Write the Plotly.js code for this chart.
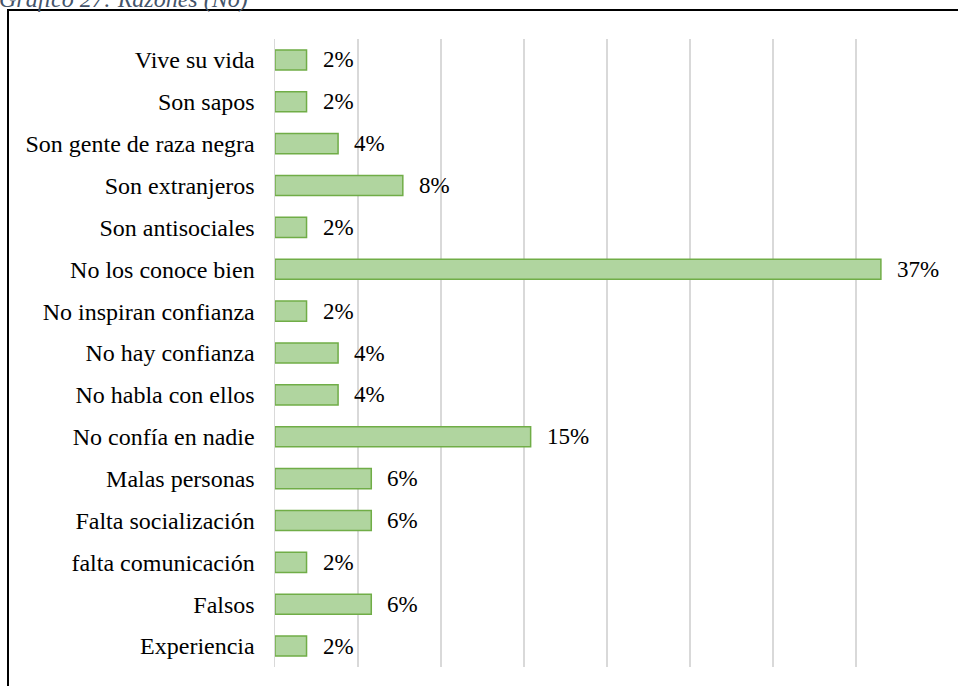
<!DOCTYPE html>
<html>
<head>
<meta charset="utf-8">
<script src="https://cdn.plot.ly/plotly-3.0.1.min.js"></script>
<style>
html,body{margin:0;padding:0;background:#fff;}
#chart{width:958px;height:686px;}
</style>
</head>
<body>
<div id="chart"></div>
<script>
const categories = ["Vive su vida","Son sapos","Son gente de raza negra","Son extranjeros","Son antisociales","No los conoce bien","No inspiran confianza","No hay confianza","No habla con ellos","No confía en nadie","Malas personas","Falta socialización","falta comunicación","Falsos","Experiencia"];
const values = [1.9, 1.9, 3.8, 7.7, 1.9, 36.5, 1.9, 3.8, 3.8, 15.4, 5.8, 5.8, 1.9, 5.8, 1.9];
const valueLabels = ["2%","2%","4%","8%","2%","37%","2%","4%","4%","15%","6%","6%","2%","6%","2%"];
const chartTitle = "Gráfico 27: Razones (No)";

const W = 958, H = 686;
const L = 275, R = 19, T = 39, B = 19;
const pw = W - L - R, ph = H - T - B;
const px2x = p => (p - L) / pw;
const py2y = p => (H - B - p) / ph;

const fontFam = '"Liberation Serif","Times New Roman",serif';

const trace = {
  type: 'bar',
  orientation: 'h',
  y: categories,
  x: values,
  width: 0.48,
  marker: {color: '#b0d59f', line: {color: '#70ad47', width: 1.5}},
  hoverinfo: 'none'
};

const annotations = categories.map((c, i) => ({
  x: values[i], y: c, xref: 'x', yref: 'y',
  text: valueLabels[i], showarrow: false,
  xanchor: 'left', yanchor: 'middle', xshift: 14,
  font: {family: fontFam, size: 23, color: '#000'}
}));
annotations.push({
  xref: 'paper', yref: 'paper', x: px2x(-3), y: py2y(-1),
  xanchor: 'left', yanchor: 'middle',
  text: '<i>' + chartTitle + '</i>', showarrow: false,
  font: {family: fontFam, size: 24, color: '#44546a'}
});

const layout = {
  width: W, height: H,
  margin: {l: L, r: R, t: T, b: B, pad: 0},
  paper_bgcolor: '#fff', plot_bgcolor: '#fff',
  showlegend: false,
  xaxis: {
    range: [0, 40], dtick: 5, showticklabels: false,
    showgrid: true, gridcolor: '#d9d9d9', gridwidth: 1.5,
    zeroline: false, showline: false, ticks: '', fixedrange: true
  },
  yaxis: {
    type: 'category', autorange: 'reversed',
    showgrid: false, zeroline: false, showline: true, linecolor: '#d9d9d9', linewidth: 1.5,
    ticks: '', ticklabelstandoff: 14,
    tickfont: {family: fontFam, size: 24, color: '#000'}, fixedrange: true
  },
  shapes: [{
    type: 'rect', xref: 'paper', yref: 'paper',
    x0: px2x(8), x1: px2x(970), y0: py2y(700), y1: py2y(10),
    line: {color: '#000', width: 2}, fillcolor: 'rgba(0,0,0,0)', layer: 'above'
  }],
  annotations: annotations
};

Plotly.newPlot('chart', [trace], layout, {staticPlot: true, displayModeBar: false});
</script>
</body>
</html>
